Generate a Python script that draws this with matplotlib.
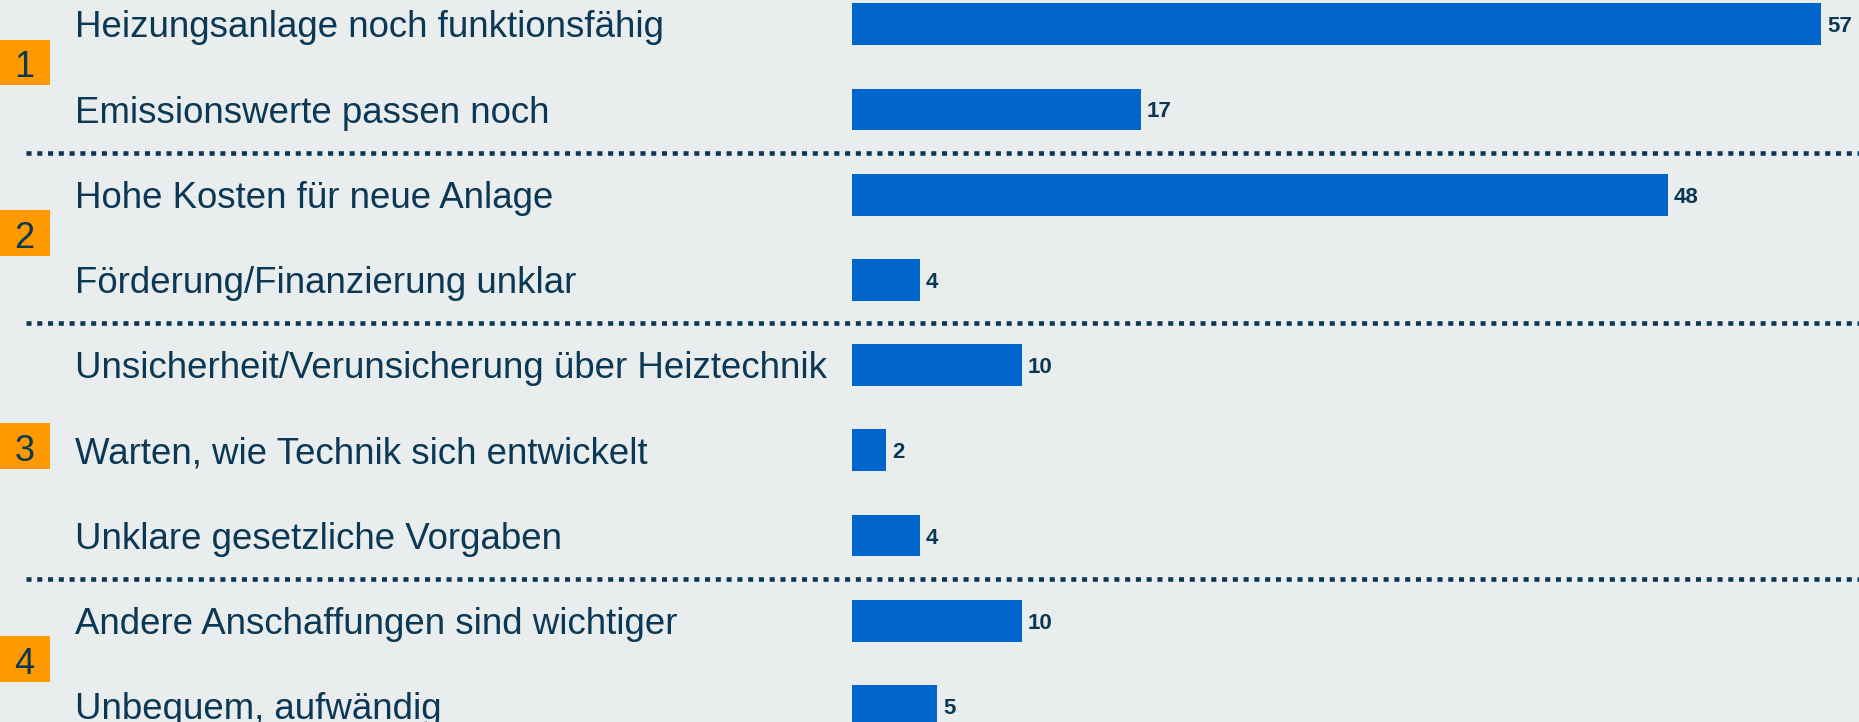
import matplotlib.pyplot as plt
from matplotlib.patches import Rectangle
import matplotlib.transforms as mtransforms

labels = [
    'Heizungsanlage noch funktionsfähig',
    'Emissionswerte passen noch',
    'Hohe Kosten für neue Anlage',
    'Förderung/Finanzierung unklar',
    'Unsicherheit/Verunsicherung über Heiztechnik',
    'Warten, wie Technik sich entwickelt',
    'Unklare gesetzliche Vorgaben',
    'Andere Anschaffungen sind wichtiger',
    'Unbequem, aufwändig',
]
values = [57, 17, 48, 4, 10, 2, 4, 10, 5]
# group number for each row
groups = [1, 1, 2, 2, 3, 3, 3, 4, 4]

bg = '#E9EDEE'
bar_color = '#0066CC'
text_color = '#0B3854'
orange = '#FF9900'

plt.rcParams['font.family'] = ['Liberation Sans', 'DejaVu Sans']

fig = plt.figure(figsize=(18.59, 7.22), dpi=100, facecolor=bg)
ax = fig.add_axes([0, 0, 1, 1], facecolor=bg)

y = list(range(len(labels)))
ax.barh(y, values, height=0.49, color=bar_color, left=0)

# text placed on its baseline, shifted by half the cap height
for i, (lab, v) in enumerate(zip(labels, values)):
    ax.text(-45.72, i + 0.153, lab, ha='left', va='baseline', fontsize=26.4,
            color=text_color)
    ax.text(v + 0.35, i + 0.094, str(v), ha='left', va='baseline',
            fontsize=16, fontweight='bold', color=text_color)

# group separators and number boxes
trans = mtransforms.blended_transform_factory(ax.transAxes, ax.transData)
group_ids = sorted(set(groups))
for g in group_ids:
    rows = [i for i, gg in enumerate(groups) if gg == g]
    mid = (rows[0] + rows[-1]) / 2 - 0.05
    ax.add_patch(Rectangle((0, mid - 0.268), 0.0269, 0.536, transform=trans,
                           facecolor=orange, edgecolor='none'))
    ax.text(0.013, mid + 0.17, str(g), transform=trans, ha='center',
            va='baseline', fontsize=26, color=text_color)
    if g != group_ids[-1]:
        ax.plot([0.014, 1], [rows[-1] + 0.51] * 2, transform=trans,
                color=text_color, lw=3.3, linestyle=(0, (1.1, 1.25)),
                solid_capstyle='butt', dash_capstyle='butt')

ax.set_xlim(-50.12, 59.24)
ax.set_ylim(8.189, -0.285)
ax.axis('off')

fig.savefig('out.png', dpi=100, facecolor=bg)
